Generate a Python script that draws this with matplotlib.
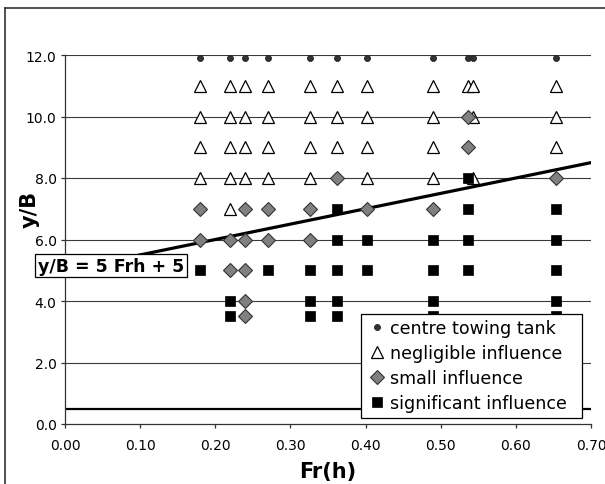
import matplotlib
matplotlib.use("Agg")
import matplotlib.pyplot as plt
from matplotlib.lines import Line2D

# Column Froude numbers (C1..C11)
fr_cols = [0.18, 0.22, 0.24, 0.27, 0.326, 0.362, 0.402, 0.49, 0.536, 0.543, 0.653]

# centre towing tank
centre_x = fr_cols
centre_y = [11.9] * 11

# negligible influence
negl_x = (fr_cols
          + [0.18, 0.22, 0.24, 0.27, 0.326, 0.362, 0.402, 0.49, 0.543, 0.653]
          + [0.18, 0.22, 0.24, 0.27, 0.326, 0.362, 0.402, 0.49, 0.653]
          + [0.18, 0.22, 0.24, 0.27, 0.326, 0.402, 0.49, 0.543]
          + [0.22])
negl_y = ([11] * 11 + [10] * 10 + [9] * 9 + [8] * 8 + [7])

# small influence
small_x = ([0.536, 0.536, 0.362, 0.653]
           + [0.18, 0.24, 0.27, 0.326, 0.402, 0.49]
           + [0.18, 0.22, 0.24, 0.27, 0.326]
           + [0.22, 0.24, 0.24, 0.24])
small_y = ([10, 9, 8, 8] + [7] * 6 + [6] * 5 + [5, 5, 4, 3.5])

# significant influence
sig_x = ([0.536]
         + [0.362, 0.536, 0.653]
         + [0.362, 0.402, 0.49, 0.536, 0.653]
         + [0.18, 0.27, 0.326, 0.362, 0.402, 0.49, 0.536, 0.653]
         + [0.22, 0.326, 0.362, 0.49, 0.653]
         + [0.22, 0.326, 0.362, 0.49, 0.653])
sig_y = ([8] + [7] * 3 + [6] * 5 + [5] * 8 + [4] * 5 + [3.5] * 5)

# boundary line y/B = 5 Fr + 5
line_x = [0.0, 0.70]
line_slope, line_icpt = 5, 5
limit_y = 0.5

x_ticks = [0.0, 0.1, 0.2, 0.3, 0.4, 0.5, 0.6, 0.7]
y_ticks = [0.0, 2.0, 4.0, 6.0, 8.0, 10.0, 12.0]

W, H = 605, 485
fig = plt.figure(figsize=(W / 100, H / 100), dpi=100)
plt.rcParams['font.family'] = ['DejaVu Sans']

L, R, T, B = 65, 591, 56, 425
ax = fig.add_axes([L / W, (H - B) / H, (R - L) / W, (B - T) / H])
ax.set_xlim(0, 0.7)
ax.set_ylim(0, 12)
for s in ['top', 'right']:
    ax.spines[s].set_visible(False)
for s in ['left', 'bottom']:
    ax.spines[s].set_color('#333333')
    ax.spines[s].set_linewidth(0.9)

ax.set_xticks(x_ticks)
ax.set_yticks(y_ticks)
ax.set_xticklabels([f"{v:.2f}" for v in x_ticks])
ax.set_yticklabels([f"{v:.1f}" for v in y_ticks])
ax.tick_params(axis='both', direction='out', length=3, width=0.9, color='#333333', labelsize=10)
ax.tick_params(axis='x', pad=7)
ax.tick_params(axis='y', pad=3)

for yv in y_ticks[1:]:
    ax.axhline(yv, color='#3a3a3a', lw=0.8, zorder=1)

ax.axhline(limit_y, color='black', lw=1.6, zorder=2)
ax.plot(line_x, [line_slope * v + line_icpt for v in line_x], color='black', lw=2.3, zorder=2)

ax.plot(centre_x, centre_y, 'o', ms=4.3, mfc='#333333', mec='#222222', mew=0.6,
        ls='none', label='centre towing tank', zorder=3, clip_on=False)
ax.plot(negl_x, negl_y, '^', ms=8.5, mfc='white', mec='black', mew=0.9,
        ls='none', label='negligible influence', zorder=4)
ax.plot(small_x, small_y, 'D', ms=6.8, mfc='#808080', mec='#333333', mew=0.8,
        ls='none', label='small influence', zorder=5)
ax.plot(sig_x, sig_y, 's', ms=7.0, mfc='black', mec='black', mew=0.5,
        ls='none', label='significant influence', zorder=6)

ax.text(0.061, 5.15, 'y/B = 5 Frh + 5', fontsize=12.5, fontweight='bold',
        ha='center', va='center', zorder=7,
        bbox=dict(boxstyle='square,pad=0.15', fc='white', ec='black', lw=0.9))

lx0 = (361 - L) / (R - L)
ly1 = (B - 315) / (B - T)
lw_ = (582 - 361) / (R - L)
lh_ = (418 - 315) / (B - T)
leg = ax.legend(loc='upper left', bbox_to_anchor=(lx0, ly1 - lh_, lw_, lh_), mode='expand',
                fontsize=12.6, frameon=True, fancybox=False, edgecolor='black',
                framealpha=1, borderpad=0.3, labelspacing=0.4, handlelength=1.2,
                handletextpad=0.15, borderaxespad=0)
leg.get_frame().set_linewidth(0.9)
leg.set_zorder(10)

fig.text(328 / W, (H - 472) / H, 'Fr(h)', fontsize=15, fontweight='bold', ha='center', va='center')
fig.text(30 / W, (H - 209) / H, 'y/B', fontsize=15, fontweight='bold', ha='center', va='center', rotation=90)

# outer chart border
fig.add_artist(Line2D([5 / W, 5 / W], [0, (H - 9) / H], transform=fig.transFigure, color='#333333', lw=1.2))
fig.add_artist(Line2D([5 / W, 1], [(H - 9) / H, (H - 9) / H], transform=fig.transFigure, color='#333333', lw=1.2))

fig.savefig('out.png', dpi=100)
